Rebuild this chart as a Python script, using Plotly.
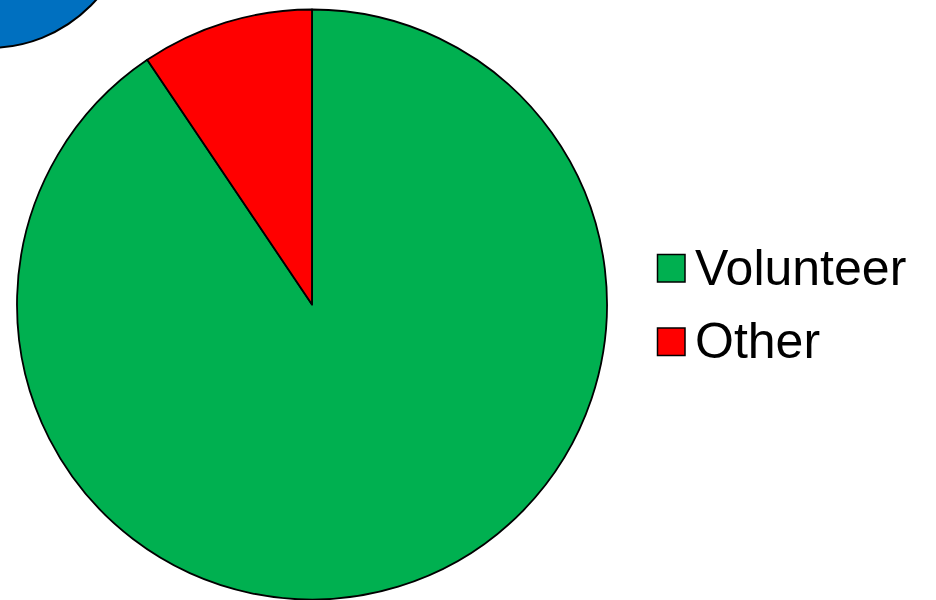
import plotly.graph_objects as go

# Share of helpers by type
labels = ["Volunteer", "Other"]
values = [48, 5]
colors = ["#00B050", "#FF0000"]

W, H = 936, 600


def px_x(x):
    return x / W


def px_y(y):
    return (H - y) / H


fig = go.Figure()

fig.add_trace(go.Pie(
    labels=labels,
    values=values,
    sort=False,
    direction="clockwise",
    rotation=0,
    marker=dict(colors=colors, line=dict(color="black", width=1.8)),
    textinfo="none",
    hoverinfo="label+percent",
    showlegend=False,
    domain=dict(x=[px_x(17), px_x(607)], y=[px_y(599.5), px_y(9.5)]),
))

shapes = []
annotations = []

# Decorative blue disc in the top-left corner
shapes.append(dict(
    type="circle", xref="paper", yref="paper",
    x0=px_x(-155), x1=px_x(133), y0=px_y(48), y1=px_y(-242),
    fillcolor="#0070C0", line=dict(color="black", width=2), layer="above",
))

# Legend: coloured squares with labels
legend_top = 254.5
step = 73.5
sq = 27.5
for i, (lab, col) in enumerate(zip(labels, colors)):
    y0 = legend_top + i * step
    shapes.append(dict(
        type="rect", xref="paper", yref="paper",
        x0=px_x(657.5), x1=px_x(657.5 + sq), y0=px_y(y0 + sq), y1=px_y(y0),
        fillcolor=col, line=dict(color="black", width=1.5),
    ))
    annotations.append(dict(
        text=lab, xref="paper", yref="paper",
        x=px_x(693), y=px_y(y0 + sq / 2 - 0.5), xanchor="left", yanchor="middle",
        showarrow=False,
        font=dict(family="Liberation Sans, Arial, sans-serif", size=50, color="black"),
    ))

fig.update_layout(
    width=W, height=H,
    margin=dict(l=0, r=0, t=0, b=0),
    paper_bgcolor="white",
    plot_bgcolor="white",
    shapes=shapes,
    annotations=annotations,
)

fig.write_html("out.html")
